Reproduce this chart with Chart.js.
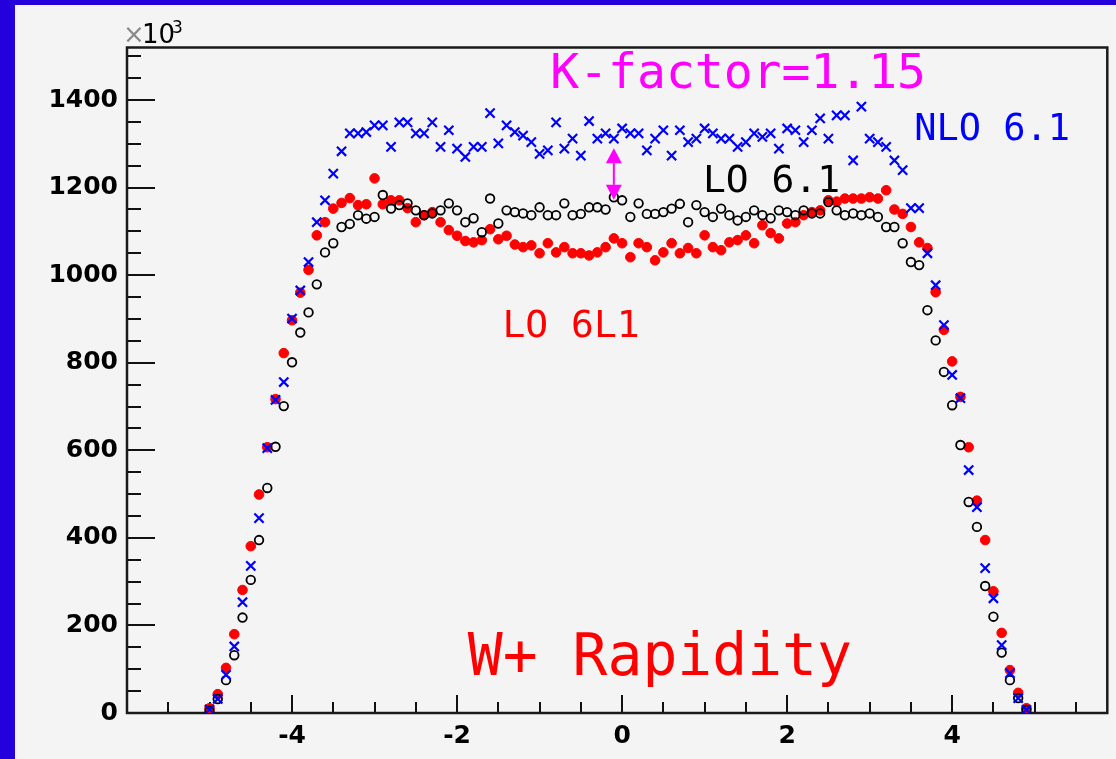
<!DOCTYPE html>
<html>
<head>
<meta charset="utf-8">
<title>W+ Rapidity</title>
<script src="https://cdn.jsdelivr.net/npm/chart.js@4.4.0/dist/chart.umd.min.js"></script>
<style>
  html, body { margin: 0; padding: 0; background: #2300dc; overflow: hidden; }
  #pad { position: absolute; left: 15px; top: 5px; width: 1101px; height: 754px; background: #f4f4f4; }
  canvas { display: block; }
</style>
</head>
<body>
<div id="pad"><canvas id="wplus" width="1101" height="754"></canvas></div>
<script>
// rapidity bins
var rapidity = [
  -5.0, -4.9, -4.8, -4.7, -4.6, -4.5, -4.4, -4.3, -4.2, -4.1,
  -4.0, -3.9, -3.8, -3.7, -3.6, -3.5, -3.4, -3.3, -3.2, -3.1,
  -3.0, -2.9, -2.8, -2.7, -2.6, -2.5, -2.4, -2.3, -2.2, -2.1,
  -2.0, -1.9, -1.8, -1.7, -1.6, -1.5, -1.4, -1.3, -1.2, -1.1,
  -1.0, -0.9, -0.8, -0.7, -0.6, -0.5, -0.4, -0.3, -0.2, -0.1,
   0.0,  0.1,  0.2,  0.3,  0.4,  0.5,  0.6,  0.7,  0.8,  0.9,
   1.0,  1.1,  1.2,  1.3,  1.4,  1.5,  1.6,  1.7,  1.8,  1.9,
   2.0,  2.1,  2.2,  2.3,  2.4,  2.5,  2.6,  2.7,  2.8,  2.9,
   3.0,  3.1,  3.2,  3.3,  3.4,  3.5,  3.6,  3.7,  3.8,  3.9,
   4.0,  4.1,  4.2,  4.3,  4.4,  4.5,  4.6,  4.7,  4.8,  4.9
];

// events per bin, x10^3
var nlo61 = [
  8, 32, 87, 152, 253, 336, 445, 605, 715, 756,
  901, 965, 1030, 1121, 1171, 1232, 1283, 1324, 1324, 1327,
  1342, 1342, 1293, 1349, 1349, 1324, 1324, 1349, 1293, 1331,
  1289, 1270, 1293, 1293, 1370, 1301, 1342, 1327, 1319, 1304,
  1277, 1285, 1349, 1289, 1312, 1273, 1352, 1312, 1324, 1312,
  1335, 1324, 1324, 1285, 1312, 1331, 1273, 1331, 1304, 1312,
  1335, 1324, 1312, 1312, 1293, 1304, 1324, 1316, 1324, 1289,
  1335, 1331, 1304, 1331, 1358, 1312, 1365, 1365, 1262, 1385,
  1312, 1304, 1293, 1262, 1240, 1153, 1153, 1050, 977, 886,
  772, 719, 555, 470, 331, 262, 155, 91, 34, 7
];

var lo61 = [
  5, 32, 75, 132, 218, 304, 395, 514, 608, 701,
  801, 869, 915, 979, 1052, 1073, 1110, 1117, 1137, 1129,
  1133, 1183, 1152, 1160, 1164, 1148, 1137, 1141, 1148, 1164,
  1148, 1121, 1130, 1098, 1175, 1118, 1148, 1144, 1141, 1137,
  1155, 1137, 1137, 1164, 1137, 1140, 1155, 1155, 1150, 1178,
  1171, 1133, 1164, 1140, 1140, 1144, 1152, 1163, 1121, 1160,
  1144, 1133, 1152, 1137, 1125, 1133, 1148, 1137, 1130, 1148,
  1144, 1137, 1148, 1141, 1141, 1167, 1148, 1137, 1141, 1137,
  1141, 1133, 1110, 1110, 1073, 1030, 1023, 920, 851, 779,
  703, 612, 482, 425, 290, 220, 138, 75, 34, 7
];

var lo6l1 = [
  11, 43, 103, 180, 281, 381, 499, 607, 717, 822,
  897, 960, 1012, 1091, 1121, 1152, 1165, 1176, 1160, 1162,
  1221, 1162, 1171, 1171, 1153, 1121, 1137, 1144, 1121, 1103,
  1090, 1078, 1075, 1080, 1105, 1082, 1090, 1070, 1064, 1068,
  1050, 1073, 1052, 1064, 1050, 1050, 1045, 1052, 1064, 1084,
  1073, 1041, 1073, 1064, 1034, 1052, 1073, 1050, 1062, 1050,
  1091, 1064, 1057, 1075, 1080, 1091, 1073, 1114, 1096, 1084,
  1118, 1121, 1137, 1144, 1148, 1171, 1168, 1175, 1175, 1175,
  1178, 1175, 1194, 1150, 1140, 1110, 1075, 1062, 961, 875,
  803, 722, 607, 485, 395, 278, 183, 98, 46, 11
];

var xTickValues = [-4, -2, 0, 2, 4];
var yTickValues = [0, 200, 400, 600, 800, 1000, 1200, 1400];

function points(vals) {
  return vals.map(function (v, i) { return { x: rapidity[i], y: v }; });
}

var monoFont = '"DejaVu Sans Mono", monospace';
var axisFont = { family: '"DejaVu Sans", sans-serif', size: 25, weight: 'bold' };

// ROOT-like frame: box plus inward tick marks
var frameTicks = {
  id: 'frameTicks',
  beforeDatasetsDraw: function (chart) {
    var ctx = chart.ctx, area = chart.chartArea;
    var xs = chart.scales.x, ys = chart.scales.y;
    ctx.save();
    ctx.strokeStyle = '#111';
    ctx.lineWidth = 2;
    ctx.beginPath();
    for (var v = -5.5; v <= 5.5; v += 0.5) {
      var px = Math.round(xs.getPixelForValue(v));
      var len = Math.abs(v % 2) < 1e-9 ? 18 : 11;
      ctx.moveTo(px, area.bottom);
      ctx.lineTo(px, area.bottom - len);
    }
    for (var w = 50; w <= 1500; w += 50) {
      var py = Math.round(ys.getPixelForValue(w));
      var ylen = w % 200 === 0 ? 28 : 14;
      ctx.moveTo(area.left, py);
      ctx.lineTo(area.left + ylen, py);
    }
    ctx.stroke();
    ctx.strokeStyle = '#1a1a1a';
    ctx.lineWidth = 2.5;
    ctx.strokeRect(area.left, area.top, area.right - area.left, area.bottom - area.top);

    // axis multiplier
    ctx.textBaseline = 'alphabetic';
    ctx.textAlign = 'left';
    ctx.font = '26px "DejaVu Sans"';
    ctx.fillStyle = '#8a8a8a';
    ctx.fillText('\u00d7', 108, 38);
    ctx.fillStyle = '#000';
    ctx.fillText('10', 127, 38);
    ctx.font = '17px "DejaVu Sans"';
    ctx.fillText('3', 157, 28);
    ctx.restore();
  },
  afterDatasetsDraw: function (chart) {
    var ctx = chart.ctx;
    var xs = chart.scales.x, ys = chart.scales.y;
    ctx.save();
    ctx.textAlign = 'left';
    ctx.textBaseline = 'alphabetic';
    function label(text, x, y, size, color) {
      ctx.font = size + 'px ' + monoFont;
      ctx.fillStyle = color;
      ctx.fillText(text, xs.getPixelForValue(x), ys.getPixelForValue(y));
    }
    label('K-factor=1.15', -0.87, 1428, 48, '#ff00ff');
    label('NLO 6.1', 3.54, 1309, 37, '#0000ff');
    label('LO 6.1', 0.98, 1190, 38, '#000000');
    label('LO 6L1', -1.45, 859, 38, '#ff0000');
    label('W+ Rapidity', -1.87, 87, 58, '#ff0000');

    // K-factor arrow between NLO and LO at y ~ -0.1
    var ax = xs.getPixelForValue(-0.1);
    var top = ys.getPixelForValue(1290), bot = ys.getPixelForValue(1172);
    var head = 15, half = 8;
    ctx.strokeStyle = '#ff00ff';
    ctx.fillStyle = '#ff00ff';
    ctx.lineWidth = 2;
    ctx.beginPath();
    ctx.moveTo(ax, top + head);
    ctx.lineTo(ax, bot - head);
    ctx.stroke();
    ctx.beginPath();
    ctx.moveTo(ax, top);
    ctx.lineTo(ax - half, top + head);
    ctx.lineTo(ax + half, top + head);
    ctx.closePath();
    ctx.fill();
    ctx.beginPath();
    ctx.moveTo(ax, bot);
    ctx.lineTo(ax - half, bot - head);
    ctx.lineTo(ax + half, bot - head);
    ctx.closePath();
    ctx.fill();
    ctx.restore();
  }
};

var ctx = document.getElementById('wplus');
var wplusChart = new Chart(ctx, {
  type: 'scatter',
  data: {
    datasets: [{
      label: 'NLO 6.1',
      data: points(nlo61),
      pointStyle: 'crossRot',
      pointRadius: 6.5,
      pointBorderColor: '#0000ff',
      pointBackgroundColor: '#0000ff',
      pointBorderWidth: 2.2
    }, {
      label: 'LO 6.1',
      data: points(lo61),
      pointStyle: 'circle',
      pointRadius: 4.3,
      pointBorderColor: '#000000',
      pointBackgroundColor: 'rgba(0,0,0,0)',
      pointBorderWidth: 1.8
    }, {
      label: 'LO 6L1',
      data: points(lo6l1),
      pointStyle: 'circle',
      pointRadius: 4.8,
      pointBorderColor: '#ff0000',
      pointBackgroundColor: '#ff0000',
      pointBorderWidth: 1
    }]
  },
  options: {
    responsive: false,
    animation: false,
    events: [],
    layout: { padding: { top: 42.5, right: 8, left: 0, bottom: 0 } },
    plugins: {
      legend: { display: false },
      tooltip: { enabled: false }
    },
    scales: {
      x: {
        type: 'linear',
        min: -6,
        max: 5.88,
        grid: { display: false, drawTicks: false },
        border: { display: false },
        afterBuildTicks: function (scale) {
          scale.ticks = xTickValues.map(function (v) { return { value: v }; });
        },
        afterFit: function (scale) { scale.height = 46; },
        ticks: {
          font: axisFont,
          color: '#000',
          padding: 8,
          maxRotation: 0,
          autoSkip: false,
          callback: function (v) { return String(v); }
        }
      },
      y: {
        type: 'linear',
        min: 0,
        max: 1520,
        grid: { display: false, drawTicks: false },
        border: { display: false },
        afterBuildTicks: function (scale) {
          scale.ticks = yTickValues.map(function (v) { return { value: v }; });
        },
        afterFit: function (scale) { scale.width = 112; },
        ticks: {
          font: axisFont,
          color: '#000',
          padding: 9,
          autoSkip: false,
          callback: function (v) { return String(v); }
        }
      }
    }
  },
  plugins: [frameTicks]
});
</script>
</body>
</html>
